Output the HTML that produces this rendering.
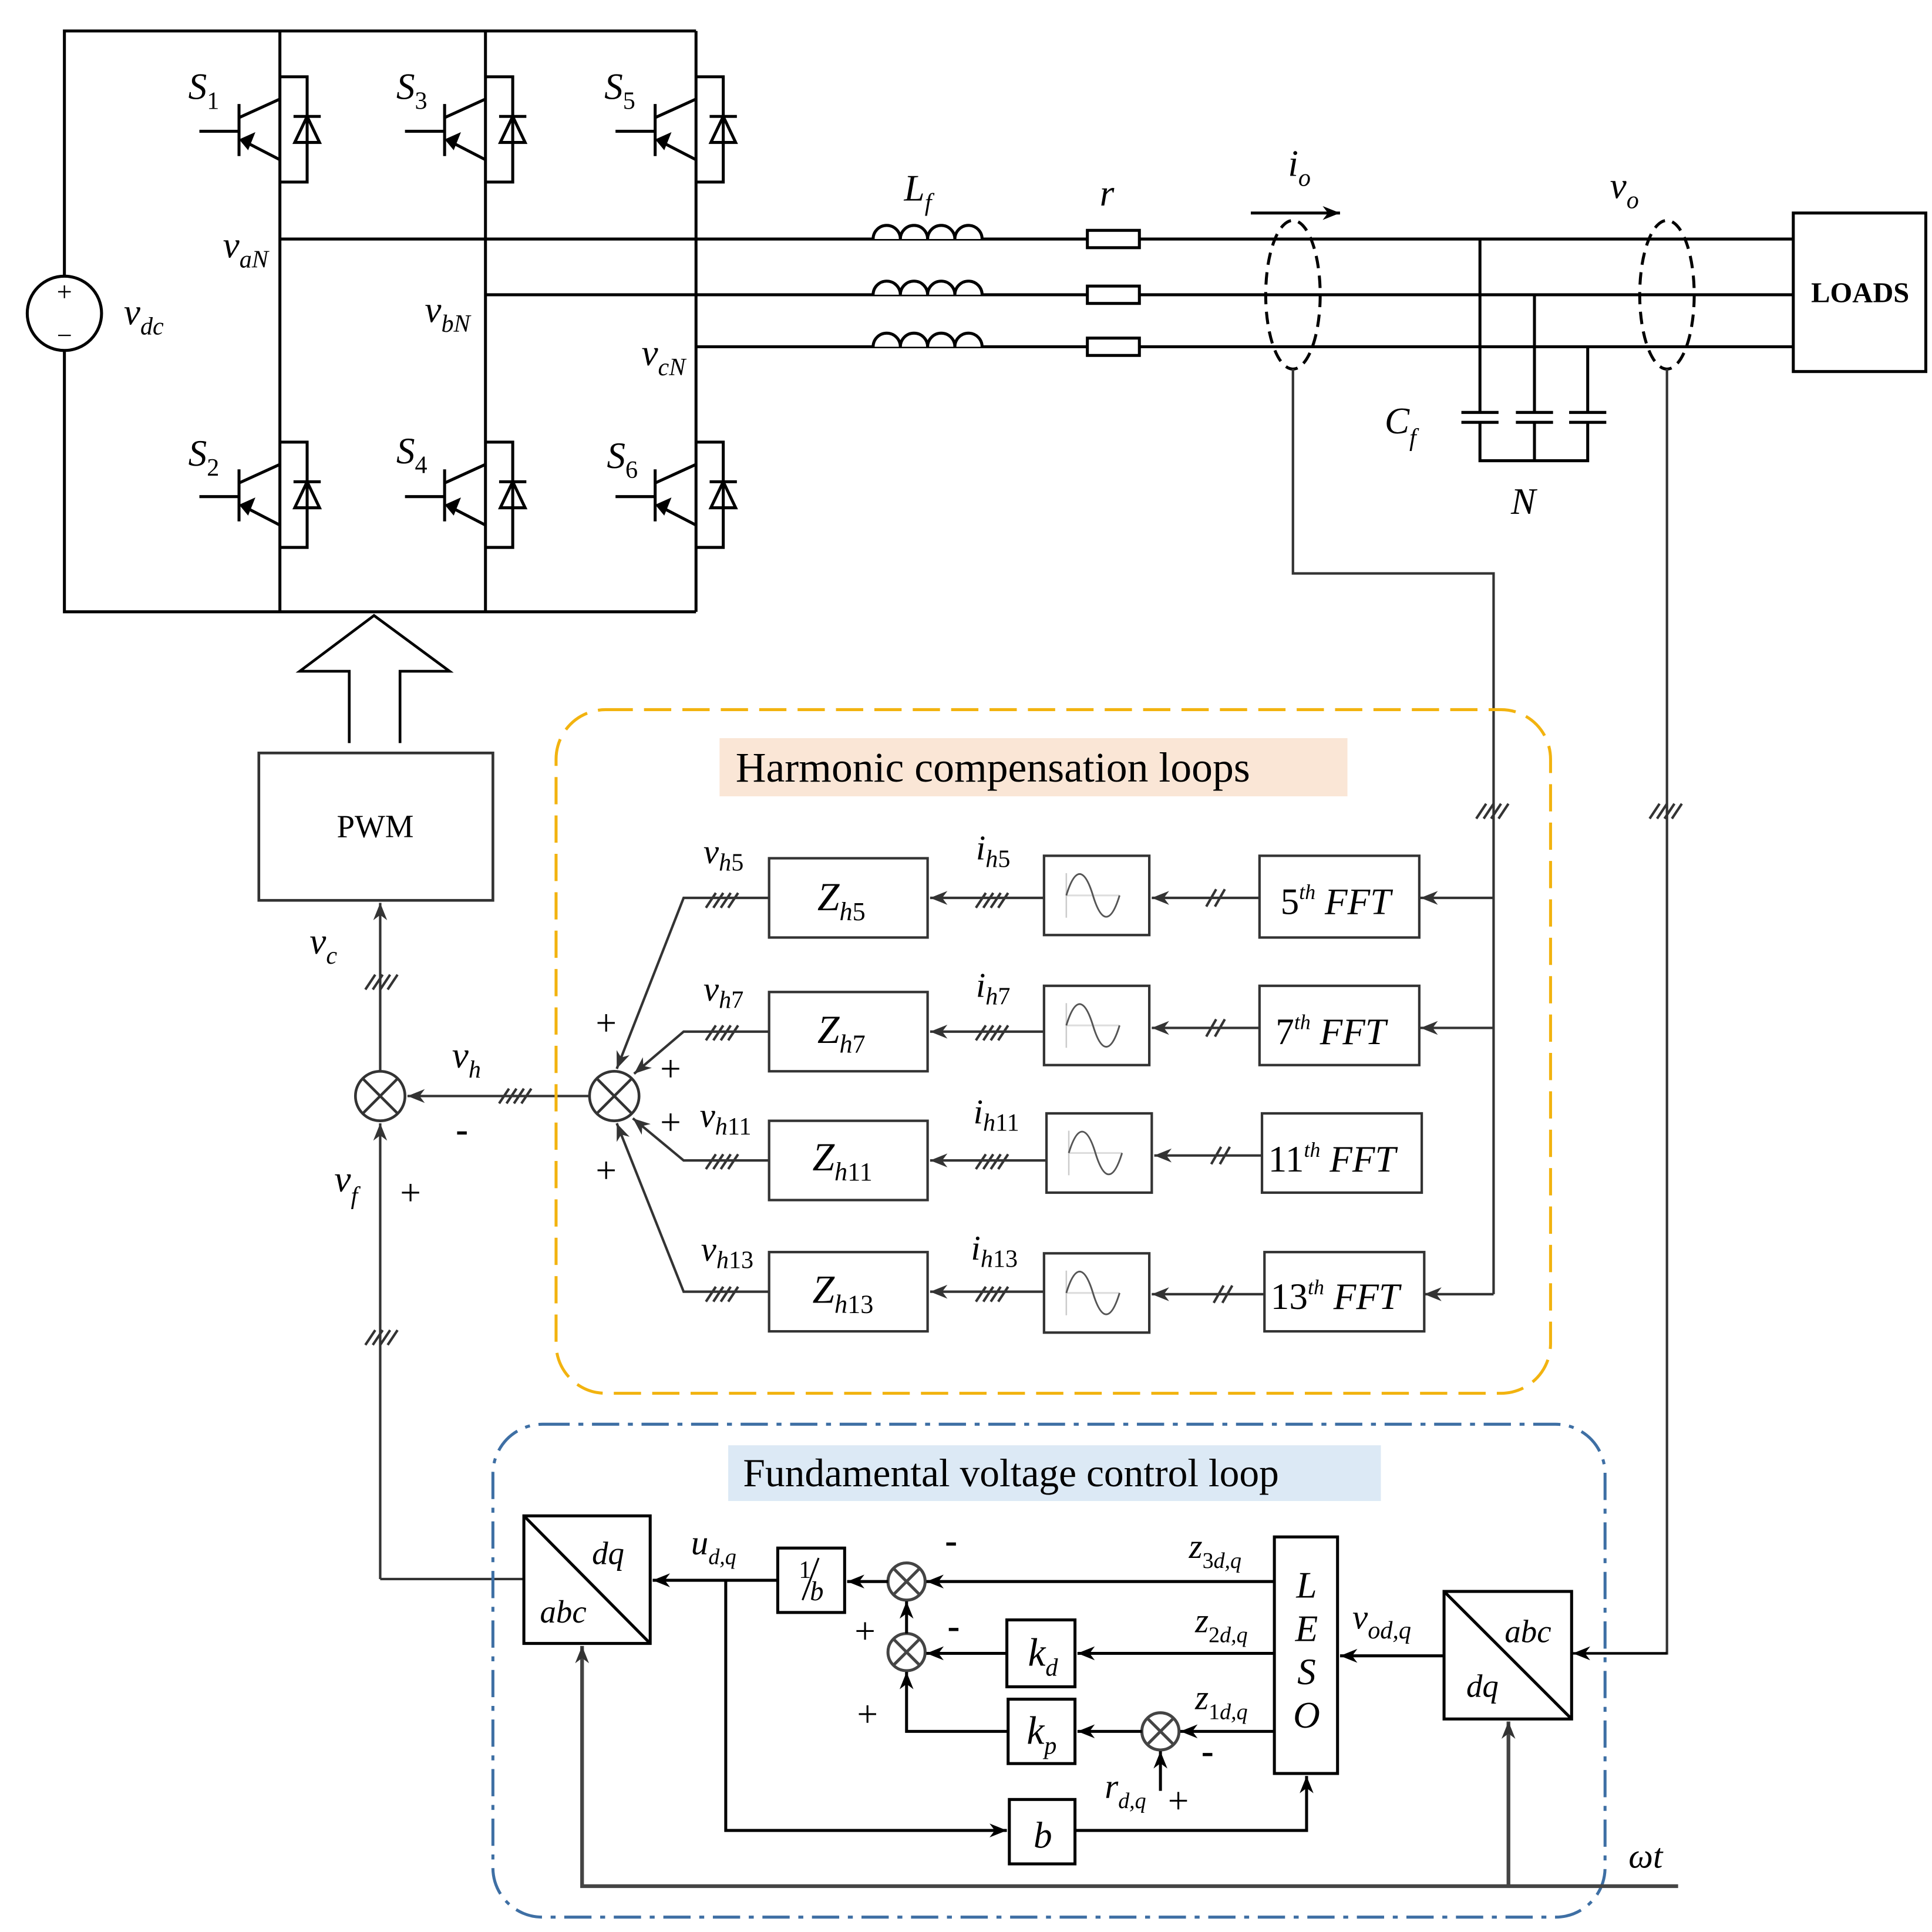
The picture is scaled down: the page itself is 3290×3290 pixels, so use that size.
<!DOCTYPE html>
<html><head><meta charset="utf-8"><style>
html,body{margin:0;padding:0;background:#fff}
svg{display:block}
text{font-family:"Liberation Serif",serif}
.i{font-style:italic}
</style></head><body>
<svg width="3290" height="3290" viewBox="0 0 1560 1560" xmlns="http://www.w3.org/2000/svg">
<defs>
<marker id="g" viewBox="0 0 10 10" refX="10" refY="5" markerWidth="14" markerHeight="14" orient="auto" markerUnits="userSpaceOnUse"><path d="M0,1 L10,5 L0,9 L3,5 z" fill="#333"/></marker>
<marker id="k" viewBox="0 0 10 10" refX="10" refY="5" markerWidth="14" markerHeight="14" orient="auto" markerUnits="userSpaceOnUse"><path d="M0,1 L10,5 L0,9 L3,5 z" fill="#000"/></marker>
<g id="sw" stroke="#000" stroke-width="2.4" fill="none">
<line x1="-65" y1="0" x2="-33" y2="0"/>
<line x1="-33" y1="-22" x2="-33" y2="20"/>
<line x1="-33" y1="-11" x2="0" y2="-26"/>
<line x1="-29" y1="8" x2="0" y2="23"/>
<path d="M-31,7 L-22,3 L-26,13 z" fill="#000"/>
<polyline points="0,-44 22,-44 22,41 0,41"/>
<line x1="11" y1="-12" x2="33" y2="-12"/>
<path d="M22,-12 L12,9 L32,9 z"/>
</g>
<g id="hh" stroke="#333" stroke-width="2"><line x1="-12" y1="6" x2="-4" y2="-6"/><line x1="-6" y1="6" x2="2" y2="-6"/><line x1="0" y1="6" x2="8" y2="-6"/><line x1="6" y1="6" x2="14" y2="-6"/></g>
<g id="h2" stroke="#333" stroke-width="2"><line x1="-8" y1="7" x2="0" y2="-7"/><line x1="-1" y1="7" x2="7" y2="-7"/></g>
<g id="sine"><line x1="18" y1="32" x2="61" y2="32" stroke="#ddd" stroke-width="1.5"/><line x1="18" y1="14" x2="18" y2="50" stroke="#ccc" stroke-width="1.2"/><path d="M18,32 C25,9 32.5,9 39.5,32 C46.5,55 54,55 61,32" fill="none" stroke="#555" stroke-width="1.4"/></g>
</defs>

<g stroke="#000" stroke-width="2.4" fill="none">
<polyline points="52,222 52,25 562,25"/>
<polyline points="52,284 52,494 562,494"/>
<line x1="226" y1="25" x2="226" y2="494"/>
<line x1="392" y1="25" x2="392" y2="494"/>
<line x1="562" y1="25" x2="562" y2="494"/>
<circle cx="52" cy="253" r="30"/>
<line x1="226" y1="193" x2="1448" y2="193"/>
<line x1="392" y1="238" x2="1448" y2="238"/>
<line x1="562" y1="280" x2="1448" y2="280"/>
</g>
<text x="52" y="243" font-size="22" text-anchor="middle">+</text>
<text x="52" y="278" font-size="22" text-anchor="middle">−</text>
<use href="#sw" x="226" y="106"/><use href="#sw" x="392" y="106"/><use href="#sw" x="562" y="106"/>
<use href="#sw" x="226" y="401"/><use href="#sw" x="392" y="401"/><use href="#sw" x="562" y="401"/>
<g font-size="30" class="i">
<text x="152" y="80" class="i">S<tspan font-size="20" dy="8" font-style="normal">1</tspan></text>
<text x="320" y="80" class="i">S<tspan font-size="20" dy="8" font-style="normal">3</tspan></text>
<text x="488" y="80" class="i">S<tspan font-size="20" dy="8" font-style="normal">5</tspan></text>
<text x="152" y="376" class="i">S<tspan font-size="20" dy="8" font-style="normal">2</tspan></text>
<text x="320" y="374" class="i">S<tspan font-size="20" dy="8" font-style="normal">4</tspan></text>
<text x="490" y="378" class="i">S<tspan font-size="20" dy="8" font-style="normal">6</tspan></text>
<text x="100" y="262" class="i">v<tspan font-size="20" dy="8">dc</tspan></text>
<text x="180" y="208" class="i">v<tspan font-size="20" dy="8">aN</tspan></text>
<text x="343" y="260" class="i">v<tspan font-size="20" dy="8">bN</tspan></text>
<text x="518" y="295" class="i">v<tspan font-size="20" dy="8">cN</tspan></text>
<text x="730" y="162" class="i">L<tspan font-size="20" dy="8">f</tspan></text>
<text x="888" y="166" class="i">r</text>
<text x="1040" y="142" class="i">i<tspan font-size="20" dy="8">o</tspan></text>
<text x="1300" y="160" class="i">v<tspan font-size="20" dy="8">o</tspan></text>
<text x="1118" y="350" class="i">C<tspan font-size="20" dy="10">f</tspan></text>
<text x="1220" y="415" class="i">N</text>
</g>
<g stroke="#000" stroke-width="2.4" fill="#fff">
<path d="M705,193 a11,11 0 0 1 22,0 a11,11 0 0 1 22,0 a11,11 0 0 1 22,0 a11,11 0 0 1 22,0"/>
<path d="M705,238 a11,11 0 0 1 22,0 a11,11 0 0 1 22,0 a11,11 0 0 1 22,0 a11,11 0 0 1 22,0"/>
<path d="M705,280 a11,11 0 0 1 22,0 a11,11 0 0 1 22,0 a11,11 0 0 1 22,0 a11,11 0 0 1 22,0"/>
<rect x="878" y="186" width="42" height="14"/>
<rect x="878" y="231" width="42" height="14"/>
<rect x="878" y="273" width="42" height="14"/>
</g>
<line x1="1010" y1="172" x2="1082" y2="172" stroke="#000" stroke-width="2.4" marker-end="url(#k)"/>
<g stroke="#000" stroke-width="2.4" fill="none">
<polyline points="1195,193 1195,333"/><line x1="1180" y1="333" x2="1210" y2="333"/><line x1="1180" y1="341" x2="1210" y2="341"/>
<polyline points="1239,238 1239,333"/><line x1="1224" y1="333" x2="1254" y2="333"/><line x1="1224" y1="341" x2="1254" y2="341"/>
<polyline points="1282,280 1282,333"/><line x1="1267" y1="333" x2="1297" y2="333"/><line x1="1267" y1="341" x2="1297" y2="341"/>
<polyline points="1195,341 1195,372 1282,372 1282,341"/><line x1="1239" y1="341" x2="1239" y2="372"/>
<rect x="1448" y="172" width="107" height="128"/>
</g>
<text x="1502" y="244" font-size="23" font-weight="bold" text-anchor="middle">LOADS</text>
<g stroke="#000" stroke-width="2.4" fill="none" stroke-dasharray="10,6">
<ellipse cx="1044" cy="238" rx="22" ry="60"/><ellipse cx="1346" cy="238" rx="22" ry="60"/>
</g>
<g stroke="#333" stroke-width="2" fill="none">
<polyline points="1044,298 1044,463 1206,463 1206,1045"/>
<polyline points="1346,298 1346,1335 1272,1335"/>
</g>
<line x1="1206" y1="1045" x2="1150" y2="1045" stroke="#333" stroke-width="2" marker-end="url(#g)"/>
<line x1="1206" y1="725" x2="1147" y2="725" stroke="#333" stroke-width="2" marker-end="url(#g)"/>
<line x1="1206" y1="830" x2="1147" y2="830" stroke="#333" stroke-width="2" marker-end="url(#g)"/>
<line x1="1346" y1="1335" x2="1270" y2="1335" stroke="#000" stroke-width="2" marker-end="url(#k)"/>
<use href="#hh" x="1204" y="655"/><use href="#hh" x="1344" y="655"/>
<path d="M282,600 L282,542 L242,542 L302,497 L363,542 L323,542 L323,600" fill="#fff" stroke="#000" stroke-width="2.2"/>
<rect x="209" y="608" width="189" height="119" fill="#fff" stroke="#333" stroke-width="2.2"/>
<text x="303" y="676" font-size="26" text-anchor="middle">PWM</text>
<line x1="307" y1="865" x2="307" y2="729" stroke="#333" stroke-width="2" marker-end="url(#g)"/>
<use href="#hh" x="307" y="793"/>
<g stroke="#333" stroke-width="2.2" fill="#fff"><circle cx="307" cy="885" r="20"/><line x1="293" y1="871" x2="321" y2="899"/><line x1="321" y1="871" x2="293" y2="899"/></g>
<line x1="476" y1="885" x2="329" y2="885" stroke="#333" stroke-width="2" marker-end="url(#g)"/>
<use href="#hh" x="415" y="885"/>
<polyline points="307,1275 307,907" stroke="#333" stroke-width="2" fill="none" marker-end="url(#g)"/>
<use href="#hh" x="307" y="1080"/>
<line x1="423" y1="1275" x2="307" y2="1275" stroke="#333" stroke-width="2"/>
<g font-size="30" class="i">
<text x="250" y="770" class="i">v<tspan font-size="20" dy="8">c</tspan></text>
<text x="365" y="862" class="i">v<tspan font-size="20" dy="8">h</tspan></text>
<text x="270" y="962" class="i">v<tspan font-size="20" dy="10">f</tspan></text>
</g>
<text x="323" y="973" font-size="30">+</text>
<text x="368" y="922" font-size="30" font-weight="bold">-</text>

<rect x="449" y="573" width="803" height="552" rx="40" fill="none" stroke="#f2b30f" stroke-width="2.4" stroke-dasharray="22,9"/>
<rect x="581" y="596" width="507" height="47" fill="#fae6d6"/>
<text x="594" y="631" font-size="34">Harmonic compensation loops</text>
<g stroke="#333" stroke-width="2.2" fill="#fff"><circle cx="496" cy="885" r="20"/><line x1="482" y1="871" x2="510" y2="899"/><line x1="510" y1="871" x2="482" y2="899"/></g>
<g stroke="#333" stroke-width="2" fill="none">
<polyline points="621,725 552,725 498,863" marker-end="url(#g)"/>
<polyline points="621,833 552,833 512,867" marker-end="url(#g)"/>
<polyline points="621,937 552,937 511,903" marker-end="url(#g)"/>
<polyline points="621,1043 552,1043 498,907" marker-end="url(#g)"/>
</g>
<g stroke="#333" stroke-width="2" fill="#fff">
<rect x="621" y="693" width="128" height="64"/><rect x="621" y="801" width="128" height="64"/>
<rect x="621" y="905" width="128" height="64"/><rect x="621" y="1011" width="128" height="64"/>
<rect x="843" y="691" width="85" height="64"/><rect x="843" y="796" width="85" height="64"/>
<rect x="845" y="899" width="85" height="64"/><rect x="843" y="1012" width="85" height="64"/>
<rect x="1017" y="691" width="129" height="66"/><rect x="1017" y="796" width="129" height="64"/>
<rect x="1019" y="899" width="129" height="64"/><rect x="1021" y="1011" width="129" height="64"/>
</g>
<use href="#sine" x="843" y="691"/><use href="#sine" x="843" y="796"/><use href="#sine" x="845" y="899"/><use href="#sine" x="843" y="1012"/>
<g stroke="#333" stroke-width="2">
<line x1="843" y1="725" x2="751" y2="725" marker-end="url(#g)"/>
<line x1="843" y1="833" x2="751" y2="833" marker-end="url(#g)"/>
<line x1="845" y1="937" x2="751" y2="937" marker-end="url(#g)"/>
<line x1="843" y1="1043" x2="751" y2="1043" marker-end="url(#g)"/>
<line x1="1017" y1="725" x2="930" y2="725" marker-end="url(#g)"/>
<line x1="1017" y1="830" x2="930" y2="830" marker-end="url(#g)"/>
<line x1="1019" y1="933" x2="932" y2="933" marker-end="url(#g)"/>
<line x1="1021" y1="1045" x2="930" y2="1045" marker-end="url(#g)"/>
</g>
<use href="#hh" x="582" y="727"/><use href="#hh" x="582" y="834"/><use href="#hh" x="582" y="938"/><use href="#hh" x="582" y="1045"/>
<use href="#hh" x="800" y="727"/><use href="#hh" x="800" y="834"/><use href="#hh" x="800" y="938"/><use href="#hh" x="800" y="1045"/>
<use href="#h2" x="982" y="725"/><use href="#h2" x="982" y="830"/><use href="#h2" x="986" y="933"/><use href="#h2" x="988" y="1045"/>
<g font-size="32" class="i">
<text x="660" y="735" class="i">Z<tspan font-size="21" dy="8">h</tspan><tspan font-size="21" font-style="normal">5</tspan></text>
<text x="660" y="842" class="i">Z<tspan font-size="21" dy="8">h</tspan><tspan font-size="21" font-style="normal">7</tspan></text>
<text x="656" y="945" class="i">Z<tspan font-size="21" dy="8">h</tspan><tspan font-size="21" font-style="normal">11</tspan></text>
<text x="656" y="1052" class="i">Z<tspan font-size="21" dy="8">h</tspan><tspan font-size="21" font-style="normal">13</tspan></text>
</g>
<g font-size="28" class="i">
<text x="568" y="697" class="i">v<tspan font-size="20" dy="6">h</tspan><tspan font-size="20" font-style="normal">5</tspan></text>
<text x="568" y="808" class="i">v<tspan font-size="20" dy="6">h</tspan><tspan font-size="20" font-style="normal">7</tspan></text>
<text x="565" y="910" class="i">v<tspan font-size="20" dy="6">h</tspan><tspan font-size="20" font-style="normal">11</tspan></text>
<text x="566" y="1018" class="i">v<tspan font-size="20" dy="6">h</tspan><tspan font-size="20" font-style="normal">13</tspan></text>
<text x="788" y="694" class="i">i<tspan font-size="20" dy="6">h</tspan><tspan font-size="20" font-style="normal">5</tspan></text>
<text x="788" y="805" class="i">i<tspan font-size="20" dy="6">h</tspan><tspan font-size="20" font-style="normal">7</tspan></text>
<text x="786" y="907" class="i">i<tspan font-size="20" dy="6">h</tspan><tspan font-size="20" font-style="normal">11</tspan></text>
<text x="784" y="1017" class="i">i<tspan font-size="20" dy="6">h</tspan><tspan font-size="20" font-style="normal">13</tspan></text>
</g>
<g font-size="30">
<text x="1034" y="738">5<tspan font-size="17" dy="-12" class="i">th</tspan><tspan dy="12" class="i"> FFT</tspan></text>
<text x="1030" y="843">7<tspan font-size="17" dy="-12" class="i">th</tspan><tspan dy="12" class="i"> FFT</tspan></text>
<text x="1024" y="946">11<tspan font-size="17" dy="-12" class="i">th</tspan><tspan dy="12" class="i"> FFT</tspan></text>
<text x="1026" y="1057">13<tspan font-size="17" dy="-12" class="i">th</tspan><tspan dy="12" class="i"> FFT</tspan></text>
</g>
<g font-size="30"><text x="481" y="836">+</text><text x="533" y="873">+</text><text x="533" y="916">+</text><text x="481" y="955">+</text></g>

<rect x="398" y="1150" width="898" height="398" rx="40" fill="none" stroke="#3e6fa4" stroke-width="2.4" stroke-dasharray="22,7,4,7"/>
<rect x="588" y="1167" width="527" height="45" fill="#dce9f5"/>
<text x="600" y="1200" font-size="32">Fundamental voltage control loop</text>
<g stroke="#000" stroke-width="2.4" fill="#fff">
<rect x="423" y="1224" width="102" height="103"/><line x1="423" y1="1224" x2="525" y2="1327"/>
<rect x="1166" y="1285" width="103" height="103"/><line x1="1166" y1="1285" x2="1269" y2="1388"/>
<rect x="1029" y="1241" width="51" height="191"/>
<rect x="628" y="1250" width="54" height="52"/>
<rect x="813" y="1308" width="55" height="54"/>
<rect x="814" y="1372" width="54" height="52"/>
<rect x="815" y="1453" width="53" height="52"/>
</g>
<g font-size="26" class="i">
<text x="478" y="1263" class="i">dq</text><text x="436" y="1310" class="i">abc</text>
<text x="1215" y="1326" class="i">abc</text><text x="1184" y="1370" class="i">dq</text>
</g>
<g font-size="30" class="i" text-anchor="middle">
<text x="1055" y="1290" class="i">L</text><text x="1055" y="1325" class="i">E</text><text x="1055" y="1360" class="i">S</text><text x="1055" y="1395" class="i">O</text>
<text x="842" y="1492" class="i">b</text>
</g>
<text x="830" y="1345" font-size="32" class="i">k<tspan font-size="20" dy="8">d</tspan></text>
<text x="829" y="1408" font-size="32" class="i">k<tspan font-size="20" dy="8">p</tspan></text>
<text x="645" y="1274" font-size="20">1</text><line x1="648" y1="1292" x2="661" y2="1258" stroke="#000" stroke-width="1.5"/><text x="654" y="1292" font-size="22" class="i">b</text>
<g stroke="#444" stroke-width="2.4" fill="#fff">
<circle cx="732" cy="1277" r="15"/><line x1="721" y1="1266" x2="743" y2="1288"/><line x1="743" y1="1266" x2="721" y2="1288"/>
<circle cx="732" cy="1334" r="15"/><line x1="721" y1="1323" x2="743" y2="1345"/><line x1="743" y1="1323" x2="721" y2="1345"/>
<circle cx="937" cy="1398" r="15"/><line x1="926" y1="1387" x2="948" y2="1409"/><line x1="948" y1="1387" x2="926" y2="1409"/>
</g>
<g stroke="#000" stroke-width="2.4" fill="none">
<line x1="1029" y1="1277" x2="748" y2="1277" marker-end="url(#k)"/>
<line x1="717" y1="1277" x2="684" y2="1277" marker-end="url(#k)"/>
<line x1="628" y1="1276" x2="527" y2="1276" marker-end="url(#k)"/>
<line x1="732" y1="1319" x2="732" y2="1293" marker-end="url(#k)"/>
<line x1="813" y1="1335" x2="748" y2="1335" marker-end="url(#k)"/>
<line x1="1029" y1="1335" x2="870" y2="1335" marker-end="url(#k)"/>
<polyline points="814,1398 732,1398 732,1350" marker-end="url(#k)"/>
<line x1="922" y1="1398" x2="870" y2="1398" marker-end="url(#k)"/>
<line x1="1029" y1="1398" x2="953" y2="1398" marker-end="url(#k)"/>
<line x1="937" y1="1446" x2="937" y2="1414" marker-end="url(#k)"/>
<polyline points="586,1276 586,1478 813,1478" marker-end="url(#k)"/>
<polyline points="868,1478 1055,1478 1055,1434" marker-end="url(#k)"/>
<line x1="1166" y1="1337" x2="1082" y2="1337" marker-end="url(#k)"/>
</g>
<g stroke="#444" stroke-width="3" fill="none">
<polyline points="1355,1523 470,1523 470,1329" marker-end="url(#g)"/>
<line x1="1218" y1="1523" x2="1218" y2="1390" marker-end="url(#g)"/>
</g>
<g font-size="28" class="i">
<text x="558" y="1255" class="i">u<tspan font-size="18" dy="8">d,q</tspan></text>
<text x="960" y="1258" class="i">z<tspan font-size="18" dy="8" font-style="normal">3</tspan><tspan font-size="18">d,q</tspan></text>
<text x="965" y="1318" class="i">z<tspan font-size="18" dy="8" font-style="normal">2</tspan><tspan font-size="18">d,q</tspan></text>
<text x="965" y="1380" class="i">z<tspan font-size="18" dy="8" font-style="normal">1</tspan><tspan font-size="18">d,q</tspan></text>
<text x="1092" y="1315" class="i">v<tspan font-size="20" dy="8">od,q</tspan></text>
<text x="892" y="1452" class="i">r<tspan font-size="18" dy="8">d,q</tspan></text>
<text x="1315" y="1508" class="i">ωt</text>
</g>
<g font-size="30"><text x="690" y="1327">+</text><text x="692" y="1394">+</text><text x="943" y="1464">+</text></g>
<g font-size="30" font-weight="bold"><text x="763" y="1254">-</text><text x="765" y="1323">-</text><text x="970" y="1424">-</text></g>
</svg>
</body></html>
